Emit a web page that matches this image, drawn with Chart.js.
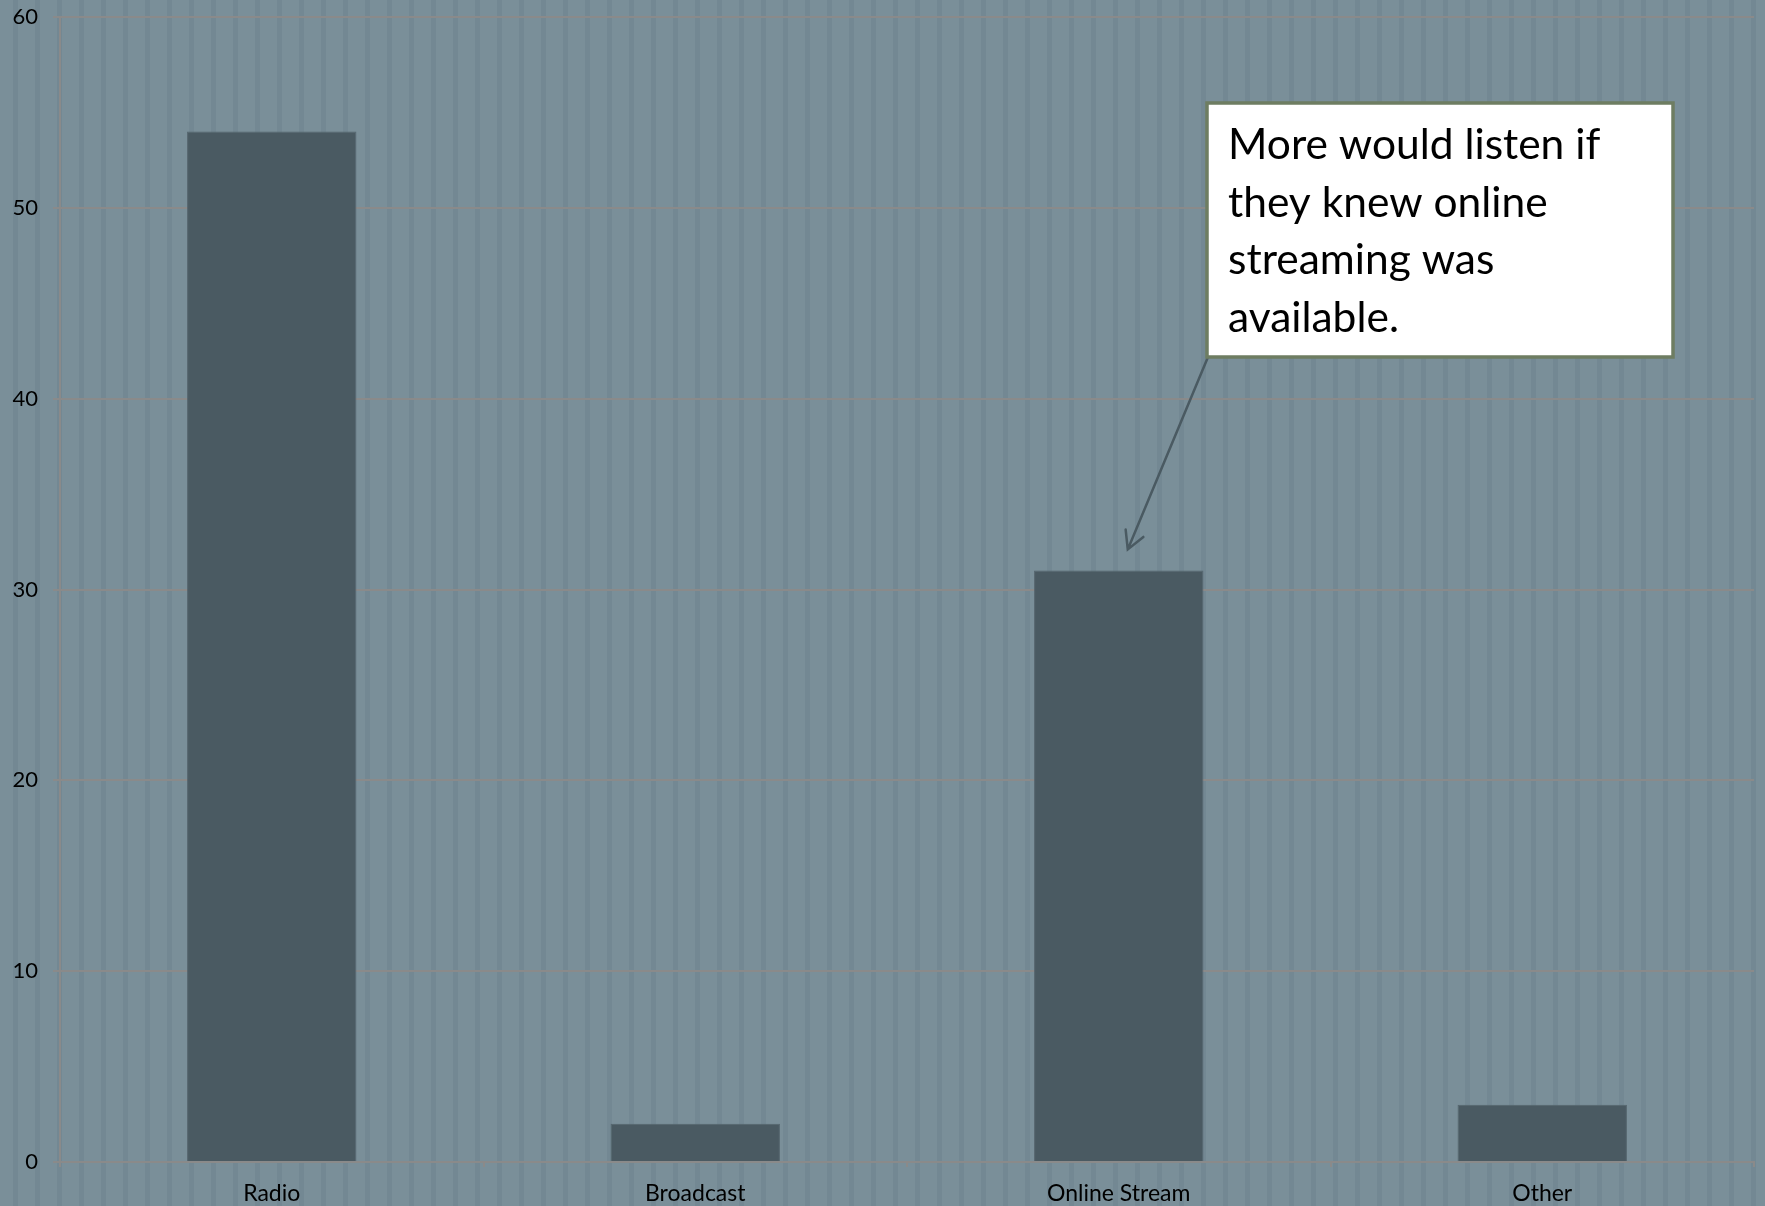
<!DOCTYPE html>
<html>
<head>
<meta charset="utf-8">
<script src="https://cdn.jsdelivr.net/npm/chart.js@4"></script>
<style>
	html, body {
		margin: 0;
		padding: 0;
	}
	body {
		width: 1765px;
		height: 1206px;
		overflow: hidden;
		background-color: #7a8f99;
		background-image: repeating-linear-gradient(90deg, #7a8f99 0px, #7a8f99 13px, #738893 13px, #738893 18px, #7a8f99 18px, #7a8f99 22px);
	}
	.chart-box {
		position: relative;
		width: 1765px;
		height: 1206px;
	}
</style>
</head>
<body>
<div class="chart-box">
	<canvas id="chart"></canvas>
</div>
<script>
"use strict"

const categories = ['Radio', 'Broadcast', 'Online Stream', 'Other'];
const listeners = [54, 2, 31, 3];
const yTicks = [0, 10, 20, 30, 40, 50, 60];

const noteLines = ['More would listen if', 'they knew online', 'streaming was', 'available.'];
const noteTarget = 2; // Online Stream

// Выноска со стрелкой
const notePlugin = {
	id: 'note',
	afterDraw(chart) {
		const ctx = chart.ctx;
		const x = chart.scales.x;
		const y = chart.scales.y;

		const box = { left: 1207, top: 103, width: 466, height: 254 };

		// стрелка
		const sx = box.left + 1;
		const sy = box.top + box.height;
		const tx = x.getPixelForValue(noteTarget) + 9;
		const ty = y.getPixelForValue(listeners[noteTarget]) - 21;
		ctx.save();
		ctx.strokeStyle = '#4a5a62';
		ctx.lineWidth = 2.5;
		ctx.lineCap = 'round';
		ctx.beginPath();
		ctx.moveTo(sx, sy);
		ctx.lineTo(tx, ty);
		const ang = Math.atan2(sy - ty, sx - tx);
		const arm = 20;
		ctx.moveTo(tx + arm * Math.cos(ang - 0.5), ty + arm * Math.sin(ang - 0.5));
		ctx.lineTo(tx, ty);
		ctx.lineTo(tx + arm * Math.cos(ang + 0.5), ty + arm * Math.sin(ang + 0.5));
		ctx.stroke();

		// рамка
		ctx.fillStyle = '#ffffff';
		ctx.fillRect(box.left, box.top, box.width, box.height);
		ctx.strokeStyle = '#6e7d62';
		ctx.lineWidth = 3.5;
		ctx.strokeRect(box.left, box.top, box.width, box.height);

		// текст
		ctx.fillStyle = '#000000';
		ctx.font = '42.5px Lato';
		ctx.textBaseline = 'alphabetic';
		ctx.textAlign = 'left';
		noteLines.forEach((line, i) => {
			ctx.fillText(line, box.left + 21, box.top + 56 + i * 57.5);
		});
		ctx.restore();
	}
};

Chart.defaults.font.family = 'Lato';
Chart.defaults.color = '#000000';

new Chart(
	document.getElementById('chart'),
	{
		type: 'bar',
		data: {
			labels: categories,
			datasets: [
				{
					label: 'Listeners',
					data: listeners,
					backgroundColor: '#4a5a62',
					borderColor: '#56666e',
					borderWidth: 1,
					barPercentage: 0.8,
					categoryPercentage: 0.5
				}
			]
		},
		options: {
			responsive: true,
			maintainAspectRatio: false,
			animation: false,
			layout: {
				padding: { top: 17, right: 11, bottom: 0, left: 0 }
			},
			plugins: {
				legend: { display: false },
				tooltip: { enabled: false }
			},
			scales: {
				x: {
					grid: {
						display: true,
						drawOnChartArea: false,
						drawTicks: true,
						tickLength: 5,
						color: '#8a8a8a',
						lineWidth: 2
					},
					border: { display: true, color: '#8a8a8a', width: 2 },
					ticks: {
						font: { size: 23 },
						padding: 13,
						maxRotation: 0
					},
					afterFit(scale) {
						scale.height = 44;
						scale.paddingLeft = 0;
						scale.paddingRight = 0;
					}
				},
				y: {
					min: 0,
					max: 60,
					afterBuildTicks(scale) {
						scale.ticks = yTicks.map(v => ({ value: v }));
					},
					grid: {
						color: '#8a8a8a',
						lineWidth: 2,
						tickLength: 7
					},
					border: { display: true, color: '#8a8a8a', width: 2 },
					ticks: {
						font: { size: 22 },
						padding: 15
					},
					afterFit(scale) {
						scale.width = 60;
						scale.paddingTop = 0;
						scale.paddingBottom = 0;
					}
				}
			}
		},
		plugins: [notePlugin]
	}
);
</script>
</body>
</html>
